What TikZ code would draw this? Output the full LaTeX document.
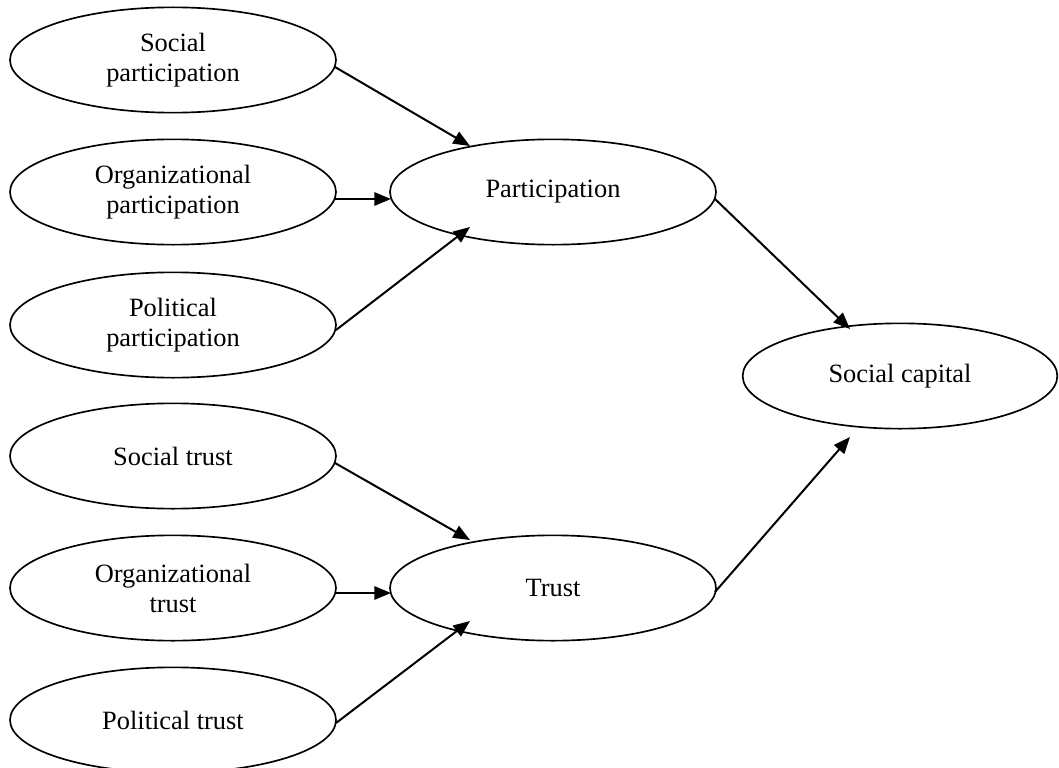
\documentclass[tikz,border=0pt]{standalone}
\usepackage{fontspec}
\setmainfont{Liberation Serif}
\usetikzlibrary{shapes.geometric,arrows.meta,calc}
\begin{document}
\begin{tikzpicture}[x=0.75pt,y=-0.75pt,
  ell/.style={draw,ellipse,line width=1.25pt,minimum width=244.5pt,minimum height=79pt,inner sep=0pt,align=center,font=\fontsize{19.8}{22.5}\selectfont},
  arr/.style={line width=1.5pt,-{Triangle[length=12.5pt,width=10pt]}}]
\useasboundingbox (0,0) rectangle (1059,767);
% left column: participation
\node[ell] (sp) at (173,60) {Social\\participation};
\node[ell] (op) at (173,192) {Organizational\\participation};
\node[ell] (pp) at (173,325) {Political\\participation};
% left column: trust
\node[ell] (st) at (173,456) {Social trust};
\node[ell] (ot) at (173,588) {Organizational\\trust};
\node[ell] (pt) at (173,720) {Political trust};
% middle
\node[ell] (part) at (553,192) {Participation};
\node[ell] (trust) at (553,588) {Trust};
% right
\node[ell,minimum width=236pt] (sc) at (900,376) {Social capital};
% connectors
\draw[arr] ($(sp)+(162,7)$) -- ($(part)+(-83,-46)$);
\draw[arr] ($(op)+(162,7)$) -- ($(part)+(-162,7)$);
\draw[arr] ($(pp)+(163,5)$) -- ($(part)+(-83,35)$);
\draw[arr] ($(part)+(162,7)$) -- ($(sc)+(-50,-47)$);
\draw[arr] ($(st)+(162,7)$) -- ($(trust)+(-83,-48)$);
\draw[arr] ($(ot)+(163,5)$) -- ($(trust)+(-162,5)$);
\draw[arr] ($(pt)+(163,3)$) -- ($(trust)+(-83,33)$);
\draw[arr] ($(trust)+(162,4)$) -- ($(sc)+(-50,61)$);
\end{tikzpicture}
\end{document}
